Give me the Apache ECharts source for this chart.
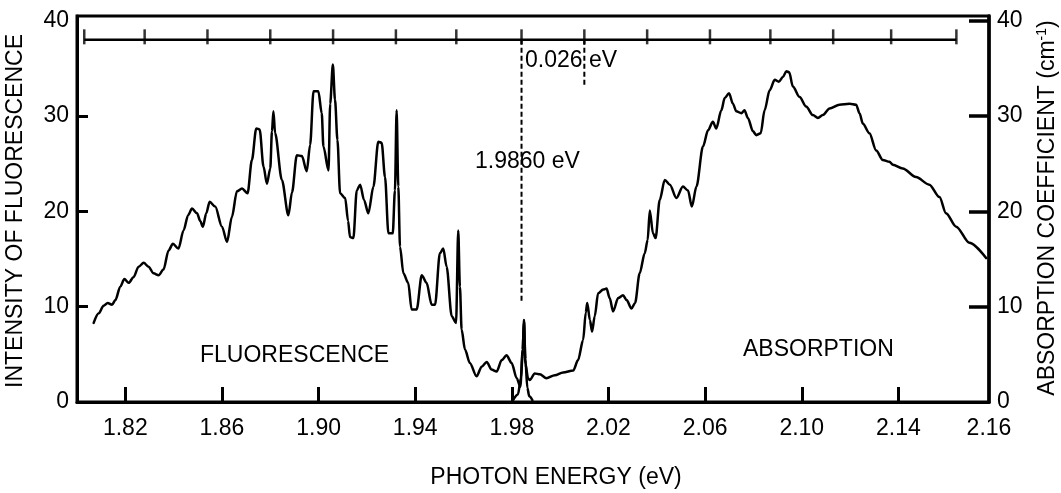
<!DOCTYPE html>
<html>
<head>
<meta charset="utf-8">
<script src="https://cdn.jsdelivr.net/npm/echarts@6/dist/echarts.min.js"></script>
<style>
html,body{margin:0;padding:0;background:#fff;}
#chart{width:1061px;height:493px;}
</style>
</head>
<body>
<div id="chart"></div>
<script>
// ---- data ----
var fluoEnergy = [1.8069,1.8090,1.8110,1.8127,1.8145,1.8159,1.8179,1.8196,1.8214,1.8234,1.8255,1.8276,1.8296,1.8317,1.8338,1.8358,1.8379,1.8397,1.8420,1.8441,1.8460,1.8476,1.8497,1.8510,1.8521,1.8535,1.8549,1.8572,1.8600,1.8621,1.8641,1.8662,1.8683,1.8706,1.8724,1.8742,1.8756,1.8772,1.8786,1.8800,1.8807,1.8813,1.8820,1.8848,1.8875,1.8890,1.8910,1.8931,1.8951,1.8965,1.8979,1.8999,1.9013,1.9020,1.9041,1.9048,1.9059,1.9068,1.9078,1.9089,1.9110,1.9122,1.9130,1.9144,1.9158,1.9172,1.9188,1.9206,1.9227,1.9247,1.9261,1.9275,1.9289,1.9307,1.9316,1.9323,1.9330,1.9337,1.9351,1.9371,1.9385,1.9406,1.9427,1.9447,1.9468,1.9482,1.9502,1.9516,1.9530,1.9551,1.9569,1.9578,1.9585,1.9592,1.9606,1.9626,1.9654,1.9675,1.9696,1.9716,1.9737,1.9758,1.9778,1.9799,1.9820,1.9835,1.9845,1.9850,1.9856,1.9864,1.9872,1.9885];
var fluoIntensity = [8.3,9.3,10.1,10.4,10.2,10.7,12.1,12.9,12.5,13.1,14.2,14.6,14.2,13.5,13.3,13.9,15.9,16.6,16.1,18.0,19.6,20.3,19.8,19.0,18.4,19.8,21.0,20.5,18.4,16.8,19.4,22.1,22.4,21.9,25.4,28.7,28.6,24.7,22.9,24.5,28.4,30.5,28.2,23.3,19.6,22.0,25.9,25.8,24.2,27.0,32.6,32.6,30.3,26.8,24.3,31.3,35.4,31.7,27.5,21.9,21.4,19.0,17.3,17.2,22.2,22.8,21.2,19.8,22.6,27.3,27.2,23.6,17.7,17.7,22.2,30.6,22.6,16.3,13.5,12.5,9.7,9.7,13.3,12.5,10.2,10.2,15.6,16.1,14.2,9.0,8.3,18.0,12.1,7.6,5.5,4.1,2.7,3.7,4.2,3.4,3.2,4.4,4.9,4.1,2.5,1.6,5.5,8.6,4.5,1.5,0.6,0.2];

var absEnergy = [1.9805,1.9825,1.9838,1.9845,1.9850,1.9856,1.9867,1.9874,1.9895,1.9916,1.9943,1.9978,2.0012,2.0054,2.0074,2.0095,2.0106,2.0112,2.0123,2.0132,2.0143,2.0157,2.0178,2.0192,2.0205,2.0219,2.0240,2.0260,2.0275,2.0295,2.0310,2.0329,2.0350,2.0362,2.0371,2.0384,2.0395,2.0412,2.0433,2.0454,2.0481,2.0508,2.0529,2.0545,2.0564,2.0591,2.0612,2.0632,2.0646,2.0667,2.0681,2.0699,2.0715,2.0729,2.0750,2.0763,2.0777,2.0798,2.0812,2.0830,2.0846,2.0867,2.0888,2.0905,2.0922,2.0936,2.0948,2.0963,2.0991,2.1018,2.1046,2.1067,2.1087,2.1115,2.1156,2.1198,2.1225,2.1239,2.1253,2.1280,2.1308,2.1335,2.1363,2.1377,2.1418,2.1473,2.1528,2.1570,2.1597,2.1639,2.1694,2.1763];
var absCoefficient = [0.2,0.8,2.5,5.5,8.6,4.0,2.5,2.3,3.0,2.9,2.5,2.8,3.1,3.3,4.4,6.5,9.4,10.4,8.6,7.4,9.0,11.4,11.8,11.9,10.9,9.5,10.9,11.2,10.7,9.8,10.4,13.5,15.6,17.0,20.1,17.7,17.2,21.2,23.3,22.8,21.4,22.6,22.2,20.5,22.6,26.8,28.5,29.4,28.7,30.6,31.9,32.4,31.3,30.5,30.3,30.6,29.8,28.4,28.0,28.2,30.6,32.7,33.8,33.6,34.1,34.7,34.6,33.1,32.0,31.0,30.1,29.8,30.1,30.8,31.2,31.3,31.2,30.3,29.2,28.2,26.4,25.4,25.2,24.9,24.5,23.6,22.8,21.5,19.8,18.4,16.7,15.1];

// top 0.026 eV scale bar (tick positions in eV) and its level
var scaleTicks = [1.803,1.828,1.854,1.880,1.906,1.932,1.957,1.984,2.010,2.036,2.062,2.087,2.113,2.137,2.164];
var scaleLevel = [38];
// dashed marker lines: [energy, top, bottom]
var laserLine = [1.984, 38, 10.4];
var ktLine = [2.010, 38, 33.2];

// axis ticks / labels
var xTickValues = [1.82,1.86,1.90,1.94,1.98,2.02,2.06,2.10,2.14];
var xLabelValues = [1.82,1.86,1.90,1.94,1.98,2.02,2.06,2.10,2.14,2.1775];
var xLabelTexts = ['1.82','1.86','1.90','1.94','1.98','2.02','2.06','2.10','2.14','2.16'];
var yLabelValues = [0,10,20,30,40];
var yLeftTicks = [10,20,30];
var yRightTicks = [10,20,30,40];

function zip(a,b){ return a.map(function(v,i){ return [v,b[i]]; }); }

var FONT = "'Liberation Sans', Arial, Helvetica, sans-serif";
var chart = echarts.init(document.getElementById('chart'), null, {renderer:'canvas'});

var lineBlack = {color:'#000', width:2.5, join:'round', cap:'round'};

var option = {
  animation:false,
  backgroundColor:'#fff',
  grid:{left:77, right:72, top:16, bottom:91, show:true, borderColor:'#000', borderWidth:3, containLabel:false, outerBoundsMode:'none'},
  xAxis:{
    type:'value', min:1.80, max:2.1775,
    axisLine:{show:true, lineStyle:{color:'#000', width:3}},
    axisTick:{show:true, inside:true, length:15, lineStyle:{color:'#000', width:3}, customValues:xTickValues},
    axisLabel:{show:true, margin:15, color:'#000', fontSize:23, fontFamily:FONT, customValues:xLabelValues,
      formatter:function(v){ var i = xLabelValues.indexOf(v); return i>=0 ? xLabelTexts[i] : ''; }},
    splitLine:{show:false}
  },
  yAxis:[{
    type:'value', min:0, max:40.5, position:'left',
    axisLine:{show:true, lineStyle:{color:'#000', width:3}},
    axisTick:{show:true, inside:true, length:11, lineStyle:{color:'#000', width:3}, customValues:yLeftTicks},
    axisLabel:{show:true, margin:8, color:'#000', fontSize:23, fontFamily:FONT, customValues:yLabelValues},
    splitLine:{show:false}
  },{
    type:'value', min:0, max:40.5, position:'right',
    axisLine:{show:true, lineStyle:{color:'#000', width:3.5}},
    axisTick:{show:true, inside:true, length:20, lineStyle:{color:'#000', width:3.5}, customValues:yRightTicks},
    axisLabel:{show:true, margin:8, color:'#000', fontSize:23, fontFamily:FONT, customValues:yLabelValues},
    splitLine:{show:false}
  }],
  series:[
    {type:'line', name:'fluorescence', data:zip(fluoEnergy, fluoIntensity), showSymbol:false, smooth:0.3, smoothMonotone:'x', lineStyle:lineBlack, z:5},
    {type:'line', name:'absorption', data:zip(absEnergy, absCoefficient), showSymbol:false, smooth:0.3, smoothMonotone:'x', lineStyle:lineBlack, z:5},
    {type:'line', name:'scalebar', data:[[scaleTicks[0], scaleLevel[0]],[scaleTicks[scaleTicks.length-1], scaleLevel[0]]], showSymbol:false, lineStyle:{color:'#000', width:2.5}},
    {type:'scatter', name:'scaleticks', data:scaleTicks.map(function(e){return [e, scaleLevel[0]];}), symbol:'rect', symbolSize:[2.5,15], symbolOffset:[0,-3], itemStyle:{color:'#000'}},
    {type:'line', name:'laser', data:[[laserLine[0], laserLine[1]],[laserLine[0], laserLine[2]]], showSymbol:false, lineStyle:{color:'#000', width:2, type:[5,3]}},
    {type:'line', name:'kT', data:[[ktLine[0], ktLine[1]],[ktLine[0], ktLine[2]]], showSymbol:false, lineStyle:{color:'#000', width:2, type:[5,3]}}
  ],
  graphic:[
    {type:'text', x:556, y:478, style:{text:'PHOTON ENERGY (eV)', font:'23px '+FONT, fill:'#000', align:'center', verticalAlign:'middle'}},
    {type:'text', x:16, y:211, rotation:Math.PI/2, style:{text:'INTENSITY OF FLUORESCENCE', font:'23px '+FONT, fill:'#000', align:'center', verticalAlign:'middle'}},
    {type:'text', x:1048, y:208, rotation:Math.PI/2, style:{text:'{a|ABSORPTION COEFFICIENT (cm}{s|-1}{a|)}', align:'center', verticalAlign:'middle',
      rich:{a:{fontSize:23, fontFamily:FONT, fill:'#000', color:'#000', lineHeight:26}, s:{fontSize:14, fontFamily:FONT, fill:'#000', color:'#000', verticalAlign:'top'}}}},
    {type:'text', x:200, y:356, style:{text:'FLUORESCENCE', font:'23px '+FONT, fill:'#000', align:'left', verticalAlign:'middle'}},
    {type:'text', x:743, y:350, style:{text:'ABSORPTION', font:'23px '+FONT, fill:'#000', align:'left', verticalAlign:'middle'}},
    {type:'text', x:525, y:61, style:{text:'0.026 eV', font:'23px '+FONT, fill:'#000', align:'left', verticalAlign:'middle'}},
    {type:'text', x:475, y:162, style:{text:'1.9860 eV', font:'23px '+FONT, fill:'#000', align:'left', verticalAlign:'middle'}}
  ]
};
chart.setOption(option);
</script>
</body>
</html>
